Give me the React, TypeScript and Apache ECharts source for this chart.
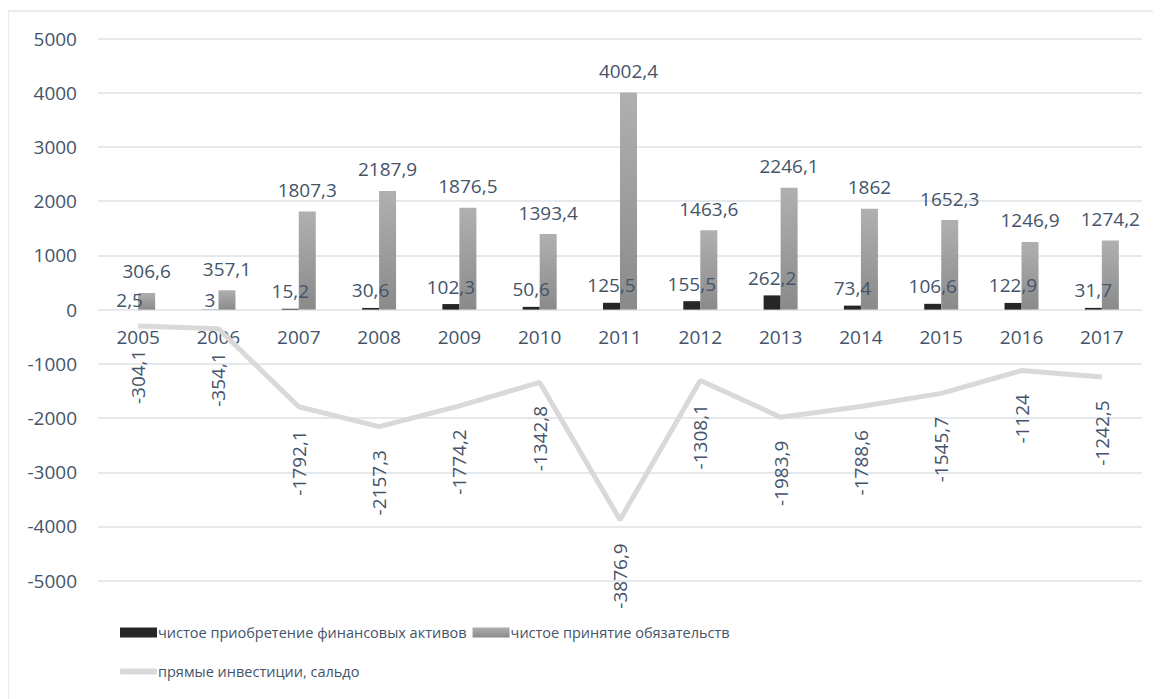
import React, { useEffect, useRef } from "react";
import * as echarts from "echarts";

const years = ["2005", "2006", "2007", "2008", "2009", "2010", "2011", "2012", "2013", "2014", "2015", "2016", "2017"];
const assets = [2.5, 3, 15.2, 30.6, 102.3, 50.6, 125.5, 155.5, 262.2, 73.4, 106.6, 122.9, 31.7];
const liabilities = [306.6, 357.1, 1807.3, 2187.9, 1876.5, 1393.4, 4002.4, 1463.6, 2246.1, 1862, 1652.3, 1246.9, 1274.2];
const balance = [-304.1, -354.1, -1792.1, -2157.3, -1774.2, -1342.8, -3876.9, -1308.1, -1983.9, -1788.6, -1545.7, -1124, -1242.5];

const nameAssets = "чистое приобретение финансовых активов";
const nameLiab = "чистое принятие обязательств";
const nameBal = "прямые инвестиции, сальдо";

const fmt = (v: number) => String(v).replace(".", ",");
const TXT = "#44546a";
const FONT = "Open Sans";
const FS = 19;

export default function App() {
  const ref = useRef<HTMLDivElement>(null);
  useEffect(() => {
    if (!ref.current) return;
    const chart = echarts.init(ref.current, null, { renderer: "svg" });
    chart.setOption({
      animation: false,
      textStyle: { fontFamily: FONT },
      graphic: [
        {
          type: "rect",
          shape: { x: 0, y: 3, width: 1170, height: 720 },
          style: { fill: "none", stroke: "#d9d9d9", lineWidth: 1 },
          silent: true,
        },
      ],
      grid: { left: 90, right: 19, top: 30.5, bottom: 118.3, containLabel: false },
      legend: [
        {
          left: 107,
          top: 612,
          itemGap: 6,
          itemWidth: 37,
          itemHeight: 10,
          icon: "rect",
          data: [nameAssets, nameLiab],
          textStyle: { color: TXT, fontSize: 14.5, fontFamily: FONT, padding: [0, 0, 0, -4] },
        },
        {
          left: 107,
          top: 651,
          itemWidth: 37,
          itemHeight: 6,
          icon: "roundRect",
          data: [{ name: nameBal, itemStyle: { color: "#d9d9d9" } }],
          textStyle: { color: TXT, fontSize: 14.5, fontFamily: FONT, padding: [0, 0, 0, -4] },
        },
      ],
      xAxis: {
        type: "category",
        data: years,
        boundaryGap: true,
        axisLine: { show: false, onZero: false },
        axisTick: { show: false },
        axisLabel: { color: TXT, fontSize: FS, fontFamily: FONT, margin: -253 },
        splitLine: { show: false },
      },
      yAxis: {
        type: "value",
        min: -5000,
        max: 5000,
        interval: 1000,
        axisLine: { show: false },
        axisTick: { show: false },
        axisLabel: { color: TXT, fontSize: FS, fontFamily: FONT, margin: 21, formatter: (v: number) => String(v) },
        splitLine: { lineStyle: { color: "#dde1e7", width: 1.5 } },
      },
      series: [
        {
          name: nameAssets,
          type: "bar",
          barWidth: 17,
          barGap: "0%",
          itemStyle: { color: "#262626" },
          data: assets.map((v, i) => ({
            value: v,
            label: i < 2 ? { distance: 0 } : undefined,
          })),
          label: {
            show: true,
            position: "top",
            distance: 8,
            color: TXT,
            fontSize: FS,
            fontFamily: FONT,
            formatter: (p: any) => fmt(p.value),
          },
        },
        {
          name: nameLiab,
          type: "bar",
          barWidth: 17,
          barGap: "0%",
          itemStyle: {
            color: new echarts.graphic.LinearGradient(0, 0, 0, 1, [
              { offset: 0, color: "#b0b0b0" },
              { offset: 1, color: "#8a8a8a" },
            ]),
          },
          data: liabilities,
          label: {
            show: true,
            position: "top",
            distance: 12,
            color: TXT,
            fontSize: FS,
            fontFamily: FONT,
            formatter: (p: any) => fmt(p.value),
          },
        },
        {
          name: nameBal,
          type: "line",
          data: balance,
          symbol: "circle",
          symbolSize: 1,
          showSymbol: true,
          lineStyle: { color: "#d9d9d9", width: 5 },
          itemStyle: { color: "rgba(217,217,217,0)" },
          label: {
            show: true,
            position: "bottom",
            distance: 23,
            rotate: 90,
            align: "right",
            verticalAlign: "middle",
            color: TXT,
            fontSize: FS,
            fontFamily: FONT,
            formatter: (p: any) => fmt(p.value),
          },
        },
      ],
    });
    return () => chart.dispose();
  }, []);
  return <div ref={ref} style={{ width: 1153, height: 691 }} />;
}
